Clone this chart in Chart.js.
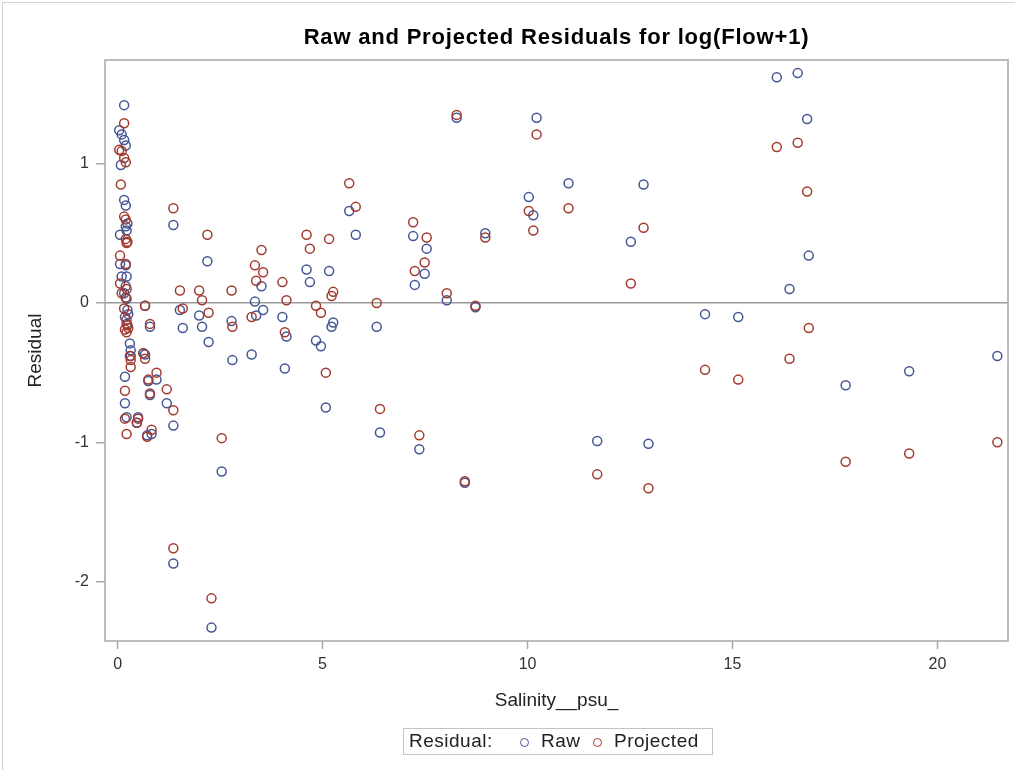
<!DOCTYPE html>
<html>
<head>
<meta charset="utf-8">
<title>Raw and Projected Residuals</title>
<script src="https://cdn.jsdelivr.net/npm/chart.js@4.4.0/dist/chart.umd.min.js"></script>
<style>
    body { margin: 0; background: #fff; font-family: "Liberation Sans", Arial, sans-serif; }
    #wrap { position: relative; width: 1015px; height: 770px; overflow: hidden; }
    #outer { position: absolute; left: 2px; top: 2px; width: 1030px; height: 790px; border: 1px solid #d4d4d4; }
    #legend { position: absolute; left: 403px; top: 728px; width: 310px; height: 27px; box-sizing: border-box;
              border: 1px solid #c4c4c4; font-size: 19px; letter-spacing: 0.5px; color: #222; }
    #legend span { position: absolute; top: 1px; }
    #legend .mk { top: 9px; width: 7px; height: 7px; border: 1.5px solid; border-radius: 50%; }
</style>
</head>
<body>
<div id="wrap">
    <div id="outer"></div>
    <canvas id="residChart" width="1015" height="770"></canvas>
    <div id="legend">
        <span style="left:5px">Residual:</span>
        <span class="mk" style="left:116px;border-color:#445694"></span>
        <span style="left:137px">Raw</span>
        <span class="mk" style="left:189px;border-color:#A23A2E"></span>
        <span style="left:210px">Projected</span>
    </div>
</div>
<script>
const salinity = [
    0.16, 0.04, 0.10, 0.16, 0.20, 0.08, 0.16, 0.20, 0.24, 0.20, 0.22, 0.06,
    0.06, 0.20, 0.10, 0.22, 0.20, 0.16, 0.22, 0.24, 0.18, 0.22, 0.26,
    0.30, 0.32, 0.32, 0.18, 0.18, 0.22, 0.50, 0.47, 0.63, 0.67, 0.67, 0.79,
    0.75, 0.79, 0.83, 0.72, 0.95, 1.20, 1.36, 1.36, 1.36,
    1.52, 1.59, 1.99, 2.06, 2.19, 2.22, 2.29, 2.54, 2.78, 2.80,
    3.27, 3.35, 3.38, 3.51, 3.55, 4.02, 4.08, 4.12, 4.61, 4.69, 4.84, 4.96,
    5.08, 5.16, 5.22, 5.26, 5.65, 5.81, 6.32, 6.40,
    7.21, 7.25, 7.36, 7.49, 7.54, 8.03, 8.27, 8.47, 8.73, 8.97,
    10.03, 10.14, 10.22, 11.00, 11.70, 12.52, 12.83, 12.95,
    14.33, 15.14, 16.08, 16.39, 16.59, 16.82, 16.86, 17.76, 19.31, 21.46
];
const rawResid = [
    1.42, 1.24, 1.21, 1.17, 1.13, 0.99, 0.74, 0.70, 0.57, 0.55, 0.52, 0.49,
    0.28, 0.27, 0.19, 0.19, 0.12, 0.07, 0.03, -0.05, -0.10, -0.15, -0.08,
    -0.29, -0.34, -0.38, -0.53, -0.72, -0.82, -0.82, -0.86, -0.36, -0.02, -0.37, -0.17,
    -0.56, -0.66, -0.94, -0.95, -0.55, -0.72, 0.56, -0.88, -1.87,
    -0.05, -0.18, -0.09, -0.17, 0.30, -0.28, -2.33, -1.21, -0.13, -0.41,
    -0.37, 0.01, -0.09, 0.12, -0.05, -0.10, -0.47, -0.24, 0.24, 0.15, -0.27, -0.31,
    -0.75, 0.23, -0.17, -0.14, 0.66, 0.49, -0.17, -0.93,
    0.48, 0.13, -1.05, 0.21, 0.39, 0.02, 1.33, -1.29, -0.03, 0.50,
    0.76, 0.63, 1.33, 0.86, -0.99, 0.44, 0.85, -1.01,
    -0.08, -0.10, 1.62, 0.10, 1.65, 1.32, 0.34, -0.59, -0.49, -0.38
];
const projResid = [
    1.29, 1.10, 1.09, 1.04, 1.01, 0.85, 0.62, 0.60, 0.44, 0.46, 0.43, 0.34,
    0.14, 0.28, 0.07, 0.10, 0.04, -0.04, -0.12, -0.16, -0.19, -0.21, -0.18,
    -0.38, -0.41, -0.46, -0.63, -0.83, -0.94, -0.83, -0.86, -0.36, -0.02, -0.40, -0.15,
    -0.55, -0.65, -0.91, -0.96, -0.50, -0.62, 0.68, -0.77, -1.76,
    0.09, -0.04, 0.09, 0.02, 0.49, -0.07, -2.12, -0.97, 0.09, -0.17,
    -0.10, 0.27, 0.16, 0.38, 0.22, 0.15, -0.21, 0.02, 0.49, 0.39, -0.02, -0.07,
    -0.50, 0.46, 0.05, 0.08, 0.86, 0.69, 0.00, -0.76,
    0.58, 0.23, -0.95, 0.29, 0.47, 0.07, 1.35, -1.28, -0.02, 0.47,
    0.66, 0.52, 1.21, 0.68, -1.23, 0.14, 0.54, -1.33,
    -0.48, -0.55, 1.12, -0.40, 1.15, 0.80, -0.18, -1.14, -1.08, -1.00
];
const xTicks = [0, 5, 10, 15, 20];
const yTicks = [-2, -1, 0, 1];

const TITLE = 'Raw and Projected Residuals for log(Flow+1)';
const FONT = '"Liberation Sans", Arial, sans-serif';

const rawPts = salinity.map((s, i) => ({ x: s, y: rawResid[i] }));
const projPts = salinity.map((s, i) => ({ x: s, y: projResid[i] }));

// title centred over the plot area + box around the plot
const framePlugin = {
    id: 'frame',
    afterDraw(chart) {
        const { ctx, chartArea: a } = chart;
        ctx.save();
        ctx.strokeStyle = '#a8a8a8';
        ctx.lineWidth = 1.5;
        ctx.strokeRect(a.left, a.top, a.right - a.left, a.bottom - a.top);
        ctx.font = 'bold 22px ' + FONT;
        ctx.letterSpacing = '0.8px';
        ctx.fillStyle = '#000';
        ctx.textAlign = 'center';
        ctx.textBaseline = 'middle';
        ctx.fillText(TITLE, (a.left + a.right) / 2, 38);
        ctx.restore();
    }
};

new Chart(document.getElementById('residChart'), {
    type: 'scatter',
    data: {
        datasets: [
            {
                label: 'Raw', data: rawPts, order: 2,
                borderColor: '#445694', backgroundColor: 'rgba(0,0,0,0)',
                pointRadius: 4.5, pointBorderWidth: 1.5, pointHoverRadius: 4.5
            },
            {
                label: 'Projected', data: projPts, order: 1,
                borderColor: '#A23A2E', backgroundColor: 'rgba(0,0,0,0)',
                pointRadius: 4.5, pointBorderWidth: 1.5, pointHoverRadius: 4.5
            }
        ]
    },
    options: {
        responsive: false,
        animation: false,
        events: [],
        layout: { padding: { left: 20, right: 7, top: 60, bottom: 54 } },
        plugins: { legend: { display: false }, tooltip: { enabled: false } },
        scales: {
            x: {
                type: 'linear', min: -0.307, max: 21.72,
                afterBuildTicks: s => { s.ticks = xTicks.map(v => ({ value: v })); },
                afterFit: s => { s.height = 75; },
                ticks: { font: { size: 16, family: FONT }, color: '#333', padding: 6, maxRotation: 0 },
                grid: { drawOnChartArea: false, tickLength: 8, tickColor: '#a8a8a8', tickWidth: 1.5 },
                border: { display: false },
                title: { display: true, text: 'Salinity__psu_', font: { size: 19, family: FONT }, color: '#222' }
            },
            y: {
                type: 'linear', min: -2.426, max: 1.744,
                afterBuildTicks: s => { s.ticks = yTicks.map(v => ({ value: v })); },
                afterFit: s => { s.width = 85; },
                ticks: { font: { size: 16, family: FONT }, color: '#333', padding: 7 },
                grid: {
                    color: c => (c.tick && c.tick.value === 0) ? '#9a9a9a' : 'rgba(0,0,0,0)',
                    lineWidth: 1.5, tickLength: 9, tickColor: '#a8a8a8', tickWidth: 1.5
                },
                border: { display: false },
                title: { display: true, text: 'Residual', font: { size: 19, family: FONT }, color: '#222' }
            }
        }
    },
    plugins: [framePlugin]
});
</script>
</body>
</html>
